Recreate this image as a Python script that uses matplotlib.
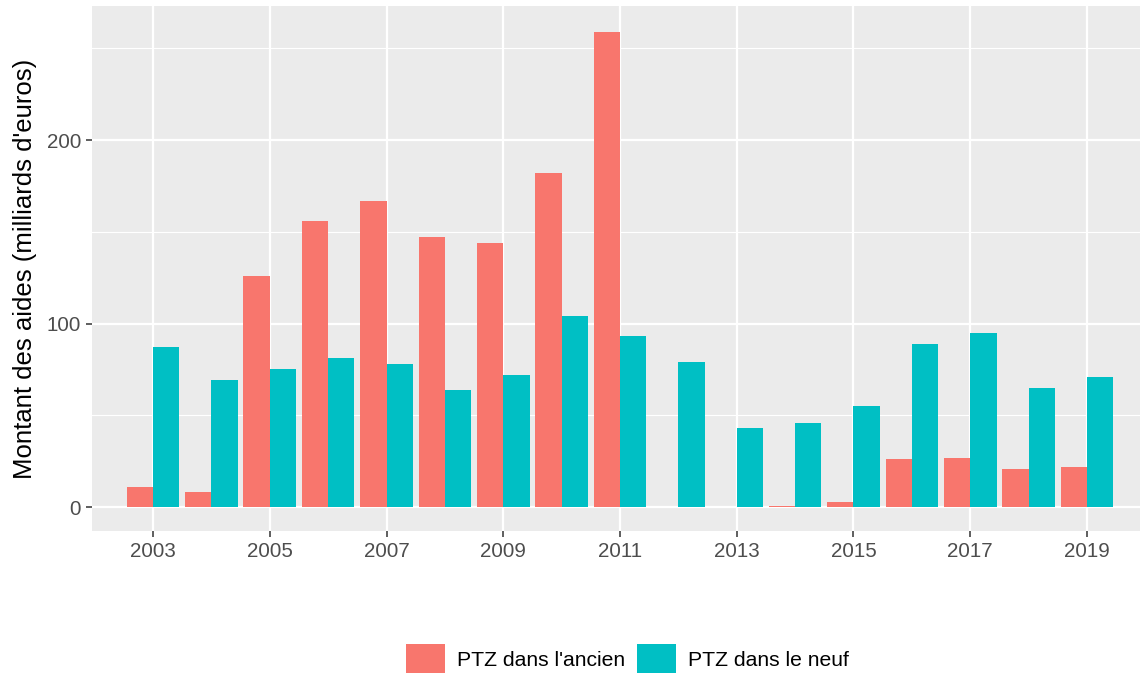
import numpy as np
import matplotlib.pyplot as plt
from matplotlib.patches import Patch

# ---------- Data ----------
years = np.arange(2003, 2020)
ptz_ancien = [11, 8, 126, 156, 167, 147, 144, 182, 259, 0, 0, 0.6, 3, 26, 27, 21, 22]
ptz_neuf = [87, 69, 75, 81, 78, 64, 72, 104, 93, 79, 43, 46, 55, 89, 95, 65, 71]
xticks = np.arange(2003, 2020, 2)
yticks = [0, 100, 200]
series_labels = ["PTZ dans l'ancien", "PTZ dans le neuf"]

# ---------- Style (ggplot2 default look) ----------
RED = '#F8766D'
TEAL = '#00BFC4'
plt.rcParams['font.family'] = ['Liberation Sans', 'DejaVu Sans']

fig = plt.figure(figsize=(11.4, 6.73), dpi=100)
ax = fig.add_axes([92 / 1140, 1 - 531 / 673, (1140 - 92) / 1140, (531 - 6) / 673])
ax.set_facecolor('#EBEBEB')

w = 0.45
ax.bar(years - w / 2, ptz_ancien, width=w, color=RED, zorder=3)
ax.bar(years + w / 2, ptz_neuf, width=w, color=TEAL, zorder=3)

ax.set_xlim(2001.955, 2019.908)
ax.set_ylim(-13, 273)
ax.set_xticks(xticks)
ax.set_yticks(yticks)
ax.set_yticks([50, 150, 250], minor=True)

ax.grid(which='major', color='white', linewidth=1.6, zorder=0)
ax.grid(which='minor', axis='y', color='white', linewidth=0.8, zorder=0)
ax.set_axisbelow(True)
for s in ax.spines.values():
    s.set_visible(False)

ax.tick_params(axis='both', which='major', length=4, width=1.1, color='#333333',
               labelcolor='#4D4D4D', labelsize=14.8, pad=4)
ax.tick_params(axis='both', which='minor', length=0)
ax.set_ylabel("Montant des aides (milliards d'euros)", fontsize=18.5, color='black',
              labelpad=7)

handles = [Patch(facecolor=RED, edgecolor='none'), Patch(facecolor=TEAL, edgecolor='none')]
fig.legend(handles, series_labels, loc='center', bbox_to_anchor=(0.5504, 1 - 659 / 673),
           ncol=2, frameon=False, fontsize=15.25, handlelength=1.8, handleheight=1.8,
           handletextpad=0.57, columnspacing=0.6)

fig.savefig('out.png', dpi=100)
